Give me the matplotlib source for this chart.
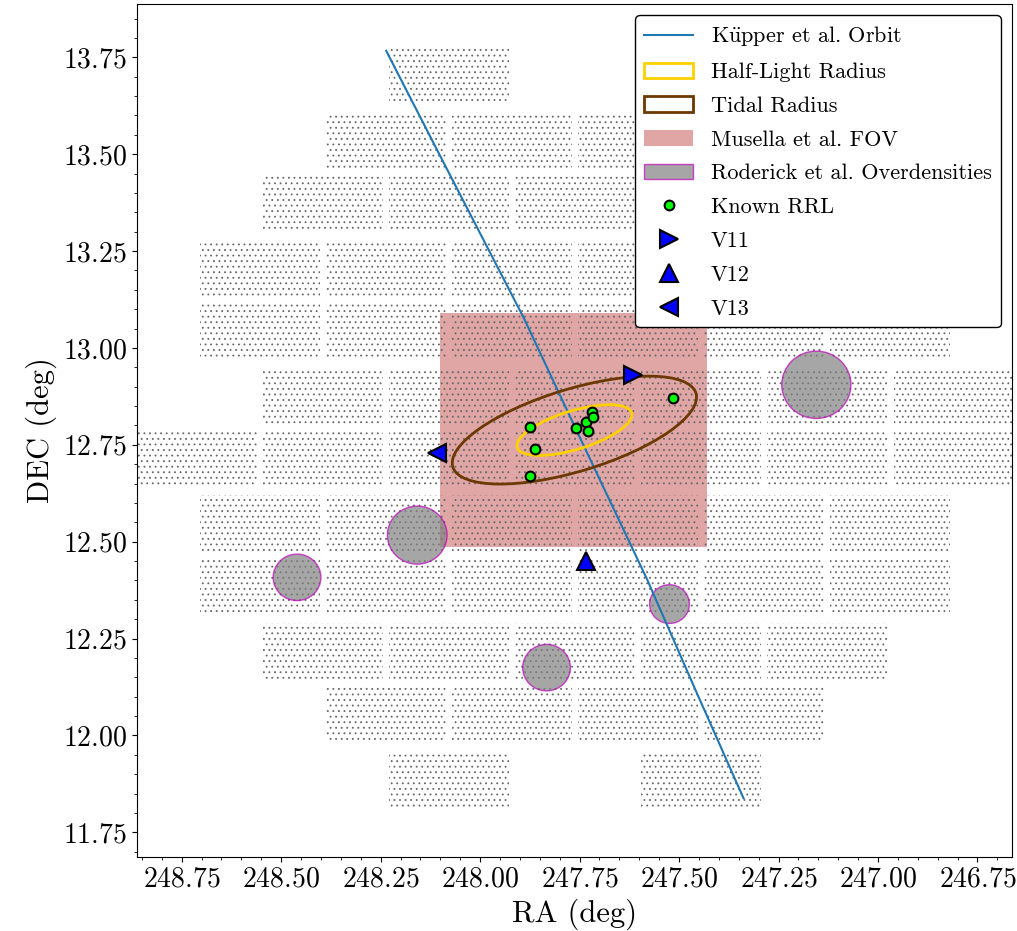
import matplotlib
matplotlib.use('Agg')
import matplotlib.pyplot as plt
from matplotlib.patches import Rectangle, Ellipse, Circle

plt.rcParams['font.family'] = 'serif'
plt.rcParams['font.serif'] = ['cmr10']
plt.rcParams['mathtext.fontset'] = 'cm'
plt.rcParams['axes.formatter.use_mathtext'] = True
plt.rcParams['hatch.linewidth'] = 0.6

# DECam chip rows: DEC centre of each row and RA centres of the chips in it
row_dec = [13.702, 13.537, 13.372, 13.207, 13.042, 12.877,
           12.713, 12.548, 12.383, 12.218, 12.053, 11.888]
row_chips = [
    [248.078, 247.444],
    [248.237, 247.920, 247.603, 247.286],
    [248.395, 248.078, 247.761, 247.444, 247.127],
    [248.554, 248.237, 247.920, 247.603, 247.286, 246.969],
    [248.554, 248.237, 247.920, 247.603, 247.286, 246.969],
    [248.395, 248.078, 247.761, 247.444, 247.127, 246.810],
    [248.712, 248.395, 248.078, 247.761, 247.444, 247.127, 246.810],
    [248.554, 248.237, 247.920, 247.603, 247.286, 246.969],
    [248.554, 248.237, 247.920, 247.603, 247.286, 246.969],
    [248.395, 248.078, 247.761, 247.444, 247.127],
    [248.237, 247.920, 247.603, 247.286],
    [248.078, 247.444],
]
chip_w = 0.302
chip_h = 0.145

# Kupper et al. orbit
orbit_ra = [248.236, 248.101, 247.891, 247.736, 247.580, 247.459, 247.338]
orbit_dec = [13.767, 13.497, 13.079, 12.740, 12.402, 12.118, 11.838]

# Hercules centre and ellipses (width, height in deg, angle)
cen_ra, cen_dec = 247.763, 12.788
half_light = (0.301, 0.0996, -17.4)
tidal = (0.640, 0.212, -17.4)

# Musella et al. field of view
fov_ra = (247.431, 248.100)
fov_dec = (12.487, 13.090)

# Roderick et al. overdensities
od_ra = [247.155, 248.158, 248.460, 247.524, 247.833]
od_dec = [12.905, 12.517, 12.408, 12.339, 12.175]
od_r = [0.087, 0.075, 0.060, 0.050, 0.060]

# known RR Lyrae
rrl_ra = [247.874, 247.863, 247.874, 247.759, 247.735, 247.718, 247.717, 247.729, 247.516]
rrl_dec = [12.795, 12.740, 12.670, 12.794, 12.810, 12.835, 12.821, 12.786, 12.870]

# new variables
v11 = (247.616, 12.931)
v12 = (247.733, 12.450)
v13 = (248.109, 12.728)

fig = plt.figure(figsize=(10.17, 9.31), dpi=100)
ax = fig.add_axes([0.1344, 0.0798, 0.8604, 0.9156])

ax.add_patch(Rectangle((fov_ra[0], fov_dec[0]), fov_ra[1] - fov_ra[0], fov_dec[1] - fov_dec[0],
                       facecolor='#e0a6a6', edgecolor='none', zorder=1, label='Musella et al. FOV'))

# star field of each chip, shown as a dotted texture
for dec, chips in zip(row_dec, row_chips):
    for ra in chips:
        ax.add_patch(Rectangle((ra - chip_w / 2, dec - chip_h / 2), chip_w, chip_h,
                               facecolor='none', edgecolor='0.4', lw=0, hatch='...', zorder=2))

for i in range(len(od_ra)):
    ax.add_patch(Circle((od_ra[i], od_dec[i]), od_r[i], facecolor='grey', edgecolor='m',
                        lw=1, alpha=0.7, zorder=3,
                        label='Roderick et al. Overdensities' if i == 0 else None))

ax.plot(orbit_ra, orbit_dec, color='tab:blue', lw=1.5, zorder=4,
        label=r'K$\ddot{\mathrm{u}}$pper et al. Orbit')

ax.add_patch(Ellipse((cen_ra, cen_dec), half_light[0], half_light[1], angle=half_light[2],
                     fill=False, edgecolor='#ffd000', lw=2, zorder=5, label='Half-Light Radius'))
ax.add_patch(Ellipse((cen_ra, cen_dec), tidal[0], tidal[1], angle=tidal[2],
                     fill=False, edgecolor='#6b3800', lw=2, zorder=5, label='Tidal Radius'))

ax.plot(rrl_ra, rrl_dec, 'o', ls='none', mfc='lime', mec='k', ms=7, mew=1.5, zorder=6,
        label='Known RRL')
ax.plot(v11[0], v11[1], '>', ls='none', mfc='blue', mec='k', ms=13, mew=1.5, zorder=6, label='V11')
ax.plot(v12[0], v12[1], '^', ls='none', mfc='blue', mec='k', ms=13, mew=1.5, zorder=6, label='V12')
ax.plot(v13[0], v13[1], '<', ls='none', mfc='blue', mec='k', ms=13, mew=1.5, zorder=6, label='V13')

ax.set_xlim(248.863, 246.664)
ax.set_ylim(11.687, 13.887)
ax.ticklabel_format(useOffset=False)
ax.minorticks_on()
ax.tick_params(labelsize=20)
ax.set_xlabel('RA (deg)', fontsize=22)
ax.set_ylabel('DEC (deg)', fontsize=22)

handles, labels = ax.get_legend_handles_labels()
order = [r'K$\ddot{\mathrm{u}}$pper et al. Orbit', 'Half-Light Radius', 'Tidal Radius',
         'Musella et al. FOV', 'Roderick et al. Overdensities', 'Known RRL', 'V11', 'V12', 'V13']
lookup = dict(zip(labels, handles))
leg = ax.legend([lookup[k] for k in order], order, loc='upper right', fontsize=16,
                handlelength=2.2, labelspacing=0.64, framealpha=1, edgecolor='k')
leg.set_zorder(10)

fig.savefig('out.png', dpi=100)
